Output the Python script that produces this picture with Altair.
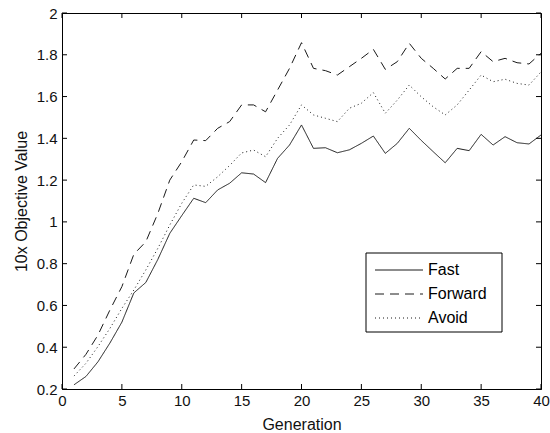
import altair as alt
import pandas as pd

generations = list(range(1, 41))
fast = [0.22, 0.26, 0.33, 0.42, 0.52, 0.66, 0.71, 0.82, 0.945, 1.03,
        1.113, 1.092, 1.153, 1.185, 1.235, 1.229, 1.188, 1.304, 1.368, 1.464,
        1.352, 1.355, 1.331, 1.345, 1.376, 1.411, 1.328, 1.376, 1.448, 1.39,
        1.336, 1.283, 1.352, 1.341, 1.419, 1.368, 1.408, 1.379, 1.373, 1.416]
forward = [0.296, 0.366, 0.458, 0.578, 0.69, 0.845, 0.905, 1.04, 1.2, 1.288,
           1.392, 1.389, 1.448, 1.48, 1.56, 1.56, 1.527, 1.631, 1.735, 1.858,
           1.735, 1.724, 1.703, 1.743, 1.783, 1.826, 1.730, 1.767, 1.855, 1.783,
           1.735, 1.684, 1.735, 1.735, 1.815, 1.767, 1.783, 1.762, 1.756, 1.807]
avoid = [0.262, 0.323, 0.403, 0.49, 0.586, 0.674, 0.77, 0.873, 0.985, 1.089,
         1.177, 1.17, 1.216, 1.27, 1.33, 1.344, 1.312, 1.40, 1.464, 1.56,
         1.512, 1.496, 1.48, 1.544, 1.568, 1.619, 1.52, 1.583, 1.655, 1.599,
         1.551, 1.512, 1.56, 1.631, 1.703, 1.671, 1.683, 1.663, 1.655, 1.718]
series_names = ["Fast", "Forward", "Avoid"]
x_ticks = [0, 5, 10, 15, 20, 25, 30, 35, 40]
y_ticks = [0.2, 0.4, 0.6, 0.8, 1.0, 1.2, 1.4, 1.6, 1.8, 2.0]

W, H = 479, 376
FONT = "Liberation Sans"
INK = "#1a1a1a"
dash_range = [[1, 0], [9, 6], [1, 3]]

rows = []
for name, vals in zip(series_names, [fast, forward, avoid]):
    for g, v in zip(generations, vals):
        rows.append({"gen": g, "value": v, "series": name})
df = pd.DataFrame(rows)

xscale = alt.Scale(domain=[0, 40], nice=False, zero=False)
yscale = alt.Scale(domain=[0.2, 2.0], nice=False, zero=False)

x_axis = alt.Axis(values=x_ticks, title="Generation", ticks=False,
                  labelPadding=4, labelFlush=False, labelOverlap=False,
                  titleY=35, titleBaseline="middle")
y_axis = alt.Axis(values=y_ticks, title="10x Objective Value", ticks=False,
                  format="~g", labelPadding=5, labelFlush=False,
                  labelOverlap=False, titleX=-41, titleY=H / 2,
                  titleBaseline="middle")

lines = alt.Chart(df).mark_line(color=INK, strokeWidth=1).encode(
    x=alt.X("gen:Q", scale=xscale, axis=x_axis),
    y=alt.Y("value:Q", scale=yscale, axis=y_axis),
    strokeDash=alt.StrokeDash("series:N",
                              scale=alt.Scale(domain=series_names, range=dash_range),
                              legend=None),
)

xt = pd.DataFrame({"gen": x_ticks})
yt = pd.DataFrame({"value": y_ticks})
tick_b = alt.Chart(xt).mark_rule(color="black", strokeWidth=1).encode(
    x=alt.X("gen:Q", scale=xscale, axis=x_axis), y=alt.value(H), y2=alt.value(H - 5))
tick_t = alt.Chart(xt).mark_rule(color="black", strokeWidth=1).encode(
    x=alt.X("gen:Q", scale=xscale, axis=x_axis), y=alt.value(0), y2=alt.value(5))
tick_l = alt.Chart(yt).mark_rule(color="black", strokeWidth=1).encode(
    y=alt.Y("value:Q", scale=yscale, axis=y_axis), x=alt.value(0), x2=alt.value(5))
tick_r = alt.Chart(yt).mark_rule(color="black", strokeWidth=1).encode(
    y=alt.Y("value:Q", scale=yscale, axis=y_axis), x=alt.value(W), x2=alt.value(W - 5))

one = pd.DataFrame({"a": [0]})
box = alt.Chart(one).mark_rect(fill="white", stroke="black", strokeWidth=1).encode(
    x=alt.value(304), x2=alt.value(440), y=alt.value(240), y2=alt.value(319))

legend_layers = [box]
for i, (name, dash) in enumerate(zip(series_names, dash_range)):
    yy = 257 + 24 * i
    ld = pd.DataFrame({"series": [name]})
    legend_layers.append(
        alt.Chart(ld).mark_rule(color=INK, strokeWidth=1, strokeDash=dash).encode(
            x=alt.value(313), x2=alt.value(361), y=alt.value(yy)))
    legend_layers.append(
        alt.Chart(ld).mark_text(align="left", baseline="middle", font=FONT,
                                fontSize=16, color="black").encode(
            x=alt.value(366), y=alt.value(yy), text="series:N"))

chart = alt.layer(lines, tick_b, tick_t, tick_l, tick_r, *legend_layers).properties(
    width=W, height=H,
    autosize=alt.AutoSizeParams(type="none"),
    padding={"left": 62, "top": 13, "right": 9, "bottom": 44},
    background="white",
).configure_view(stroke="black", strokeWidth=1).configure_axis(
    domainColor="black", domainWidth=1, grid=False,
    labelFont=FONT, labelFontSize=15, labelColor="#111111",
    titleFont=FONT, titleFontSize=16, titleFontWeight="normal", titleColor="#111111",
)

chart.save("out.html", embed_options={"renderer": "svg", "actions": False})
